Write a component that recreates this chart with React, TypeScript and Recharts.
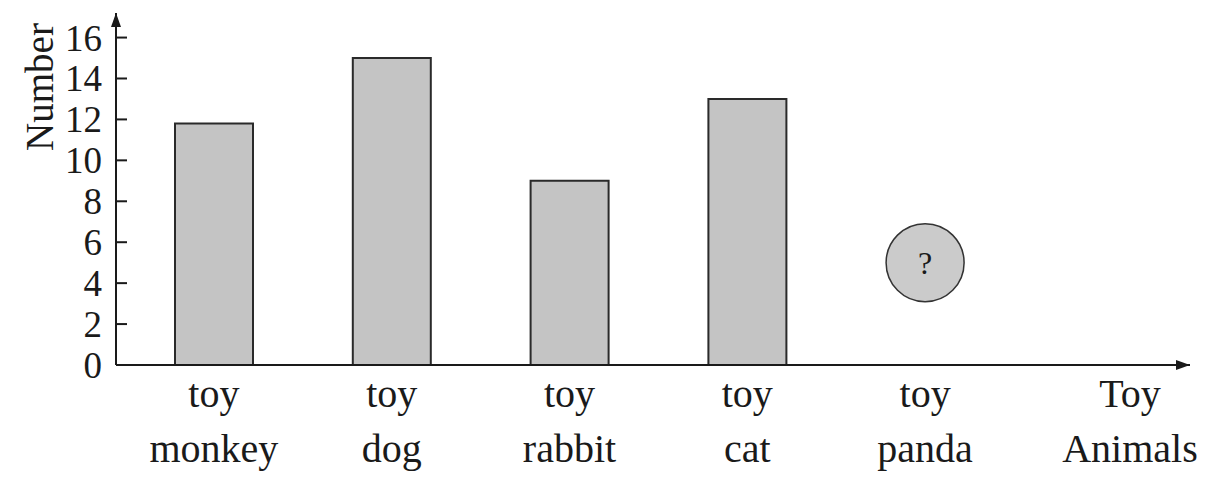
import React from "react";
import { ComposedChart, Bar, Scatter, XAxis, YAxis } from "recharts";

const animals = ["monkey", "dog", "rabbit", "cat", "panda"];
const counts = [11.8, 15, 9, 13, null];
const unknownCounts = [null, null, null, null, 5];
const yTicks = [0, 2, 4, 6, 8, 10, 12, 14, 16];

const chartData = animals.map((name, i) => ({
  name,
  count: counts[i],
  guess: unknownCounts[i],
}));

const FONT = '"Liberation Serif", "Times New Roman", serif';
const INK = "#1a1a1a";

function YTick(props: any) {
  const { x, y, payload } = props;
  return (
    <g>
      {payload.value !== 0 && <line x1={x} y1={y} x2={x + 11} y2={y} stroke={INK} strokeWidth={2} />}
      <text x={x - 14} y={y} dy="0.35em" textAnchor="end" fontFamily={FONT} fontSize={37} fill={INK}>
        {payload.value}
      </text>
    </g>
  );
}

function XTick(props: any) {
  const { x, y, payload } = props;
  return (
    <g fontFamily={FONT} fontSize={40} fill={INK} textAnchor="middle">
      <text x={x} y={y + 42}>toy</text>
      <text x={x} y={y + 97}>{payload.value}</text>
    </g>
  );
}

function AxisName(props: any) {
  const { viewBox } = props;
  const cx = viewBox.x + viewBox.width - 60;
  return (
    <g fontFamily={FONT} fontSize={40} fill={INK} textAnchor="middle">
      <text x={cx} y={viewBox.y + 42}>Toy</text>
      <text x={cx} y={viewBox.y + 97}>Animals</text>
    </g>
  );
}

function GuessCircle(props: any) {
  const { cx, cy, payload } = props;
  if (payload == null || payload.guess == null || cy == null || isNaN(cy)) return <g />;
  return (
    <g>
      <circle cx={cx} cy={cy} r={39} fill="#cbcbcb" stroke="#333" strokeWidth={1.5} />
      <text x={cx} y={cy} dy="0.35em" textAnchor="middle" fontFamily={FONT} fontSize={32} fill={INK}>
        ?
      </text>
    </g>
  );
}

export default function App() {
  return (
    <div style={{ width: 1215, height: 484, position: "relative", background: "#fff" }}>
      <svg width={0} height={0} style={{ position: "absolute" }}>
        <defs>
          <marker
            id="axisArrow"
            viewBox="0 0 14 10"
            refX={14}
            refY={5}
            markerWidth={14}
            markerHeight={10}
            markerUnits="userSpaceOnUse"
            orient="auto-start-reverse"
          >
            <path d="M0,0 L14,5 L0,10 z" fill={INK} />
          </marker>
        </defs>
      </svg>
      <ComposedChart
        width={1215}
        height={484}
        data={chartData}
        margin={{ top: 5, right: 33, bottom: 0, left: 0 }}
      >
        <XAxis
          dataKey="name"
          type="category"
          height={127}
          padding={{ left: 9, right: 176 }}
          tickLine={false}
          tickSize={0}
          tickMargin={0}
          tick={<XTick />}
          axisLine={{ stroke: INK, strokeWidth: 2, markerEnd: "url(#axisArrow)" }}
          label={<AxisName />}
          interval={0}
        />
        <YAxis
          type="number"
          width={108}
          domain={[0, 17.2]}
          ticks={yTicks}
          allowDataOverflow
          tickLine={false}
          tickSize={0}
          tickMargin={0}
          tick={<YTick />}
          axisLine={{ stroke: INK, strokeWidth: 2, markerStart: "url(#axisArrow)" }}
          label={{
            value: "Number",
            content: () => (
              <text
                x={31}
                y={79}
                transform="rotate(-90 31 79)"
                textAnchor="middle"
                dominantBaseline="central"
                fontFamily={FONT}
                fontSize={39}
                fill={INK}
              >
                Number
              </text>
            ),
          }}
        />
        <Bar
          dataKey="count"
          barSize={78}
          fill="#c4c4c4"
          stroke="#2a2a2a"
          strokeWidth={2}
          isAnimationActive={false}
        />
        <Scatter dataKey="guess" shape={<GuessCircle />} isAnimationActive={false} />
      </ComposedChart>
    </div>
  );
}
